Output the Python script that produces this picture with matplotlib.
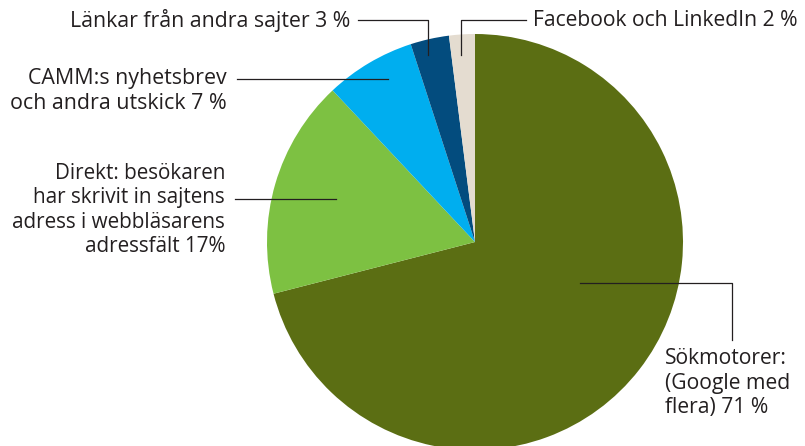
import matplotlib.pyplot as plt

# trafikkällor
labels = ['Sökmotorer', 'Direkt', 'CAMM:s nyhetsbrev', 'Länkar från andra sajter', 'Facebook och LinkedIn']
values = [71, 17, 7, 3, 2]
colors = ['#5b6e13', '#7dc142', '#00aeef', '#034c7e', '#e4dcd0']

W, H = 805, 446
fig = plt.figure(figsize=(W / 100, H / 100), dpi=100)
ax = fig.add_axes([0, 0, 1, 1])

cx, cy, r = 475, H - 242, 208
ax.pie(values, colors=colors, startangle=90, counterclock=False,
       center=(cx, cy), radius=r, frame=True,
       wedgeprops=dict(linewidth=0))
ax.set_xlim(0, W)
ax.set_ylim(0, H)
ax.set_aspect('equal')
ax.axis('off')

tc = '#231f20'
lc = '#231f20'
fam = ['Open Sans', 'DejaVu Sans']

def y(p):
    return H - p

# leader lines
ax.plot([358, 428, 428], [y(20), y(20), y(55)], color=lc, lw=0.9)
ax.plot([461, 461, 526], [y(55), y(20), y(20)], color=lc, lw=0.9)
ax.plot([237, 388], [y(79), y(79)], color=lc, lw=0.9)
ax.plot([235, 336], [y(199), y(199)], color=lc, lw=0.9)
ax.plot([580, 732, 732], [y(283), y(283), y(340)], color=lc, lw=0.9)

ax.text(350, y(21), 'Länkar från andra sajter 3 %', ha='right', va='center',
        fontsize=15.3, color=tc, family=fam)
ax.text(533, y(21), 'Facebook och LinkedIn 2 %', ha='left', va='center',
        fontsize=15.2, color=tc, family=fam)
ax.text(227, y(91), 'CAMM:s nyhetsbrev\noch andra utskick 7 %', ha='right', va='center',
        multialignment='right', fontsize=15.4, color=tc, family=fam, linespacing=1.2)
ax.text(225, y(210), 'Direkt: besökaren\nhar skrivit in sajtens\nadress i webbläsarens\nadressfält 17%',
        ha='right', va='center', multialignment='right', fontsize=14.9, color=tc,
        family=fam, linespacing=1.2)
ax.text(665, y(383), 'Sökmotorer:\n(Google med\nflera) 71 %', ha='left', va='center',
        multialignment='left', fontsize=15.2, color=tc, family=fam, linespacing=1.2)

plt.savefig('out.png', dpi=100)
